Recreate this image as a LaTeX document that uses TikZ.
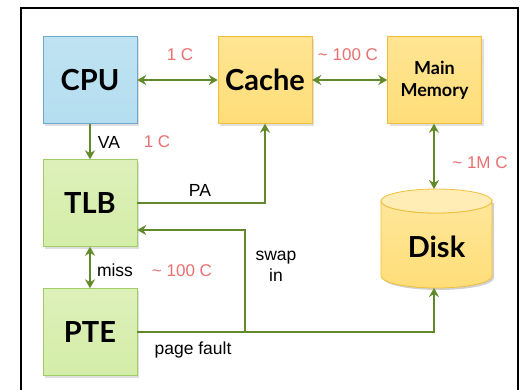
\documentclass[tikz,border=0pt]{standalone}
\usepackage{fontspec}
\setmainfont{Liberation Sans}
\newfontfamily\boxfont{Lato}
\usetikzlibrary{arrows.meta,shadows,calc}
\definecolor{linkgreen}{RGB}{98,138,42}
\definecolor{costpink}{RGB}{232,112,112}
\definecolor{cpufill}{RGB}{180,222,240}
\definecolor{cpuedge}{RGB}{110,168,205}
\definecolor{memfill}{RGB}{255,222,120}
\definecolor{memedge}{RGB}{240,190,60}
\definecolor{tlbfill}{RGB}{212,237,168}
\definecolor{tlbedge}{RGB}{160,205,105}
\tikzset{
  x=1pt, y=-1pt,
  unit/.style={minimum width=94pt, minimum height=87pt, inner sep=0pt,
    font=\boxfont\bfseries\fontsize{29}{32}\selectfont,
    drop shadow={shadow xshift=2pt, shadow yshift=-2pt, opacity=0.25}},
  cpubox/.style={unit, draw=cpuedge, top color=cpufill!85!white, bottom color=cpufill},
  membox/.style={unit, draw=memedge, top color=memfill!80!white, bottom color=memfill},
  tlbbox/.style={unit, draw=tlbedge, top color=tlbfill!80!white, bottom color=tlbfill},
  link/.style={draw=linkgreen, line width=2.8pt, -{Stealth[length=9pt,width=10pt]}},
  dlink/.style={link, {Stealth[length=9pt,width=10pt]}-{Stealth[length=9pt,width=10pt]}},
  cost/.style={text=costpink, font=\fontsize{17}{19}\selectfont, inner sep=0pt},
  tag/.style={text=black, font=\fontsize{17.5}{20}\selectfont, inner sep=0pt},
}
\begin{document}
\begin{tikzpicture}
\useasboundingbox (0,0) rectangle (525,389);
% frame of the slide area
\draw[line width=2pt] (21,400) -- (21,8) -- (518,8) -- (518,400);

% units
\node[cpubox] (cpu)   at (90,80)    {CPU};
\node[membox] (cache) at (265,80)   {Cache};
\node[membox, font=\boxfont\bfseries\fontsize{18}{22}\selectfont, align=center]
      (mem)   at (434.5,80) {Main\\Memory};
\node[tlbbox] (tlb)   at (90,203)   {TLB};
\node[tlbbox] (pte)   at (90,332)   {PTE};

% disk cylinder
\begin{scope}
  \fill[black, opacity=0.18] (383,203) -- (383,278) arc[start angle=180, end angle=360, x radius=55.5, y radius=-12] -- (494,203) -- cycle;
  \path[draw=memedge, line width=0.8pt, top color=memfill!75!white, bottom color=memfill]
    (381,201) -- (381,276) arc[start angle=180, end angle=360, x radius=55.5, y radius=-12]
    -- (492,201) arc[start angle=0, end angle=180, x radius=55.5, y radius=12] -- cycle;
  \path[draw=memedge, line width=0.8pt, fill=memfill!55!white]
    (436.5,201) ellipse[x radius=55.5, y radius=12];
\end{scope}
\node[font=\boxfont\bfseries\fontsize{29}{32}\selectfont, inner sep=0pt] (disk) at (436.5,247) {Disk};
\coordinate (disktop) at (434,189);
\coordinate (diskbot) at (434,288);

% connectors
\draw[dlink] (cpu.east) -- (cache.west);
\draw[dlink] (cache.east) -- (mem.west);
\draw[link] (cpu.south) -- (tlb.north);
\draw[dlink] (tlb.south) -- (pte.north);
\draw[link] (tlb.east) -| (cache.south);
\draw[dlink] (mem.south -| disktop) -- (disktop);
\draw[link] (pte.east) -| (diskbot);
\coordinate (junc) at (245,332);
\draw[link] (junc) |- ([yshift=-27pt]tlb.east);

% labels
\node[cost] (c1) at (180,55) {1 C};
\node[cost] (c2) at (348,55) {\textasciitilde\ 100 C};
\node[tag]  (va) at (109,142) {VA};
\node[cost] (c3) at (157,142) {1 C};
\node[tag]  (pa) at (200,190) {PA};
\node[cost] (c4) at (480,163) {\textasciitilde\ 1M C};
\node[tag, align=center, font=\fontsize{17.5}{21}\selectfont] (sw) at (276,266) {swap\\in};
\node[tag]  (ms) at (115,270) {miss};
\node[cost] (c5) at (182,271) {\textasciitilde\ 100 C};
\node[tag]  (pf) at (193,350) {page fault};
\end{tikzpicture}
\end{document}
